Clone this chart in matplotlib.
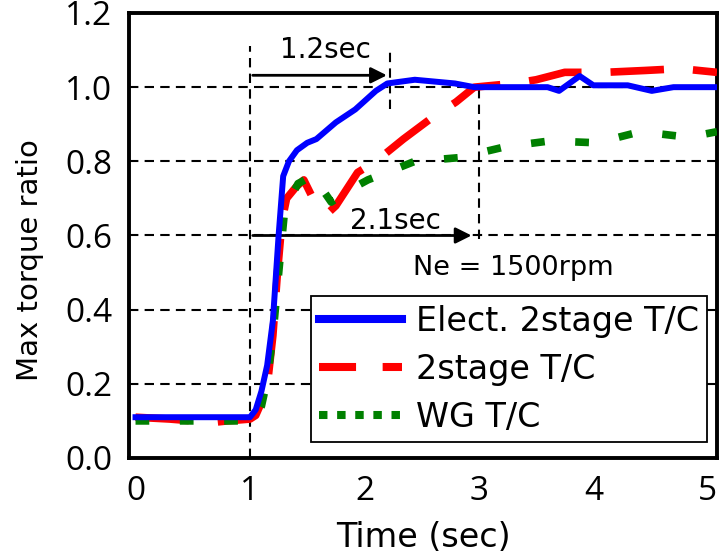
import numpy as np
import matplotlib
matplotlib.use("Agg")
import matplotlib.pyplot as plt
from matplotlib.lines import Line2D

plt.rcParams['font.family'] = ['DejaVu Sans']
tick_font = ['Open Sans', 'DejaVu Sans']

# series
t_elec = [0.0, 0.5, 1.0, 1.05, 1.1, 1.15, 1.2, 1.25, 1.29, 1.34, 1.41, 1.5, 1.58, 1.75, 1.92,
          2.1, 2.2, 2.44, 2.79, 2.96, 3.3, 3.6, 3.7, 3.88, 4.0, 4.3, 4.51, 4.7, 5.08]
v_elec = [0.11, 0.11, 0.11, 0.13, 0.18, 0.25, 0.37, 0.60, 0.76, 0.80, 0.83, 0.85, 0.86, 0.905, 0.94,
          0.99, 1.01, 1.02, 1.01, 1.00, 1.00, 1.00, 0.99, 1.03, 1.005, 1.005, 0.99, 1.0, 1.0]

t_2st = [0.0, 0.3, 0.5, 0.65, 0.8, 1.0, 1.05, 1.1, 1.16, 1.2, 1.24, 1.28, 1.32, 1.4, 1.47,
         1.55, 1.62, 1.68, 1.75, 1.94, 2.1, 2.34, 2.6, 2.8, 2.96, 3.3, 3.5, 3.75, 4.1, 4.45, 4.76, 5.08]
v_2st = [0.11, 0.105, 0.10, 0.095, 0.10, 0.105, 0.115, 0.15, 0.22, 0.33, 0.50, 0.64, 0.70, 0.73, 0.75,
         0.70, 0.67, 0.66, 0.68, 0.77, 0.80, 0.86, 0.92, 0.96, 1.00, 1.01, 1.02, 1.04, 1.04, 1.045, 1.05, 1.04]

t_wg = [0.0, 0.5, 1.0, 1.05, 1.1, 1.15, 1.2, 1.26, 1.3, 1.35, 1.42, 1.54, 1.62, 1.71, 1.85,
        2.03, 2.44, 2.83, 3.24, 3.62, 4.03, 4.41, 4.83, 5.08]
v_wg = [0.10, 0.10, 0.10, 0.11, 0.14, 0.21, 0.33, 0.53, 0.66, 0.70, 0.74, 0.76, 0.73, 0.69, 0.72,
        0.75, 0.80, 0.81, 0.84, 0.855, 0.85, 0.88, 0.865, 0.88]

labels = ['Elect. 2stage T/C', '2stage T/C', 'WG T/C']
colors = ['#0000ff', '#ff0000', '#008000']
x_ticks = [0, 1, 2, 3, 4, 5]
y_ticks = [0.0, 0.2, 0.4, 0.6, 0.8, 1.0, 1.2]
grid_y = [0.2, 0.4, 0.6, 0.8, 1.0]

fig = plt.figure(figsize=(7.19, 5.56), dpi=100)
ax = fig.add_axes([129 / 719, 1 - 458 / 556, 588 / 719, 445 / 556])

gdash = (0, (4.5, 3))
for g in grid_y:
    ax.axhline(g, color='black', lw=1.5, ls=gdash, zorder=1)
# vertical guide lines
ax.plot([1.0, 1.0], [0.0, 1.11], color='black', lw=1.5, ls=gdash, zorder=1)
ax.plot([2.22, 2.22], [0.94, 1.10], color='black', lw=1.5, ls=gdash, zorder=1)
ax.plot([3.0, 3.0], [0.59, 1.0], color='black', lw=1.5, ls=gdash, zorder=1)

ax.plot(t_elec, v_elec, color=colors[0], lw=4.3, zorder=4)
ax.plot(t_2st, v_2st, color=colors[1], lw=5.5, ls=(0, (7.0, 3.8)), zorder=3)
ax.plot(t_wg, v_wg, color=colors[2], lw=5.5, ls=(0, (1.8, 4.0)), dash_capstyle='butt', zorder=3)

# arrows and notes
ax.annotate('', xy=(2.22, 1.032), xytext=(1.0, 1.032),
            arrowprops=dict(arrowstyle='-|>', color='black', lw=2.0, mutation_scale=24))
ax.text(1.655, 1.10, '1.2sec', fontsize=20, ha='center', va='center')
ax.annotate('', xy=(2.96, 0.6), xytext=(1.0, 0.6),
            arrowprops=dict(arrowstyle='-|>', color='black', lw=2.0, mutation_scale=24))
ax.text(2.27, 0.64, '2.1sec', fontsize=20, ha='center', va='center')
ax.text(3.30, 0.513, 'Ne = 1500rpm', fontsize=19.5, ha='center', va='center')

ax.set_xlim(-0.057, 5.08)
ax.set_ylim(0, 1.2)
ax.set_xticks(x_ticks)
ax.set_yticks(y_ticks)
ax.set_yticklabels(['%.1f' % v for v in y_ticks])
ax.tick_params(axis='both', length=0, labelsize=24)
ax.tick_params(axis='x', pad=12.5)
ax.tick_params(axis='y', pad=12)
for lab in ax.get_xticklabels() + ax.get_yticklabels():
    lab.set_family(tick_font)
for s in ax.spines.values():
    s.set_linewidth(2.8)
ax.set_xlabel('Time (sec)', fontsize=24, labelpad=9)
ax.set_ylabel('Max torque ratio', fontsize=21)
ax.yaxis.set_label_coords(-0.145, 0.445)

handles = [
    Line2D([], [], color=colors[0], lw=5.8),
    Line2D([], [], color=colors[1], lw=5.8, ls=(0, (4.6, 3.3))),
    Line2D([], [], color=colors[2], lw=5.8, ls=(0, (1.05, 1.2)), dash_capstyle='butt'),
]
leg = ax.legend(handles, labels, loc='lower right', bbox_to_anchor=(0.983, 0.036), fontsize=24,
                frameon=True, fancybox=False, edgecolor='black', framealpha=1, handlelength=2.5,
                handletextpad=0.4, borderpad=0.25, labelspacing=0.45, borderaxespad=0)
leg.get_frame().set_linewidth(1.3)

fig.savefig('out.png', dpi=100)
